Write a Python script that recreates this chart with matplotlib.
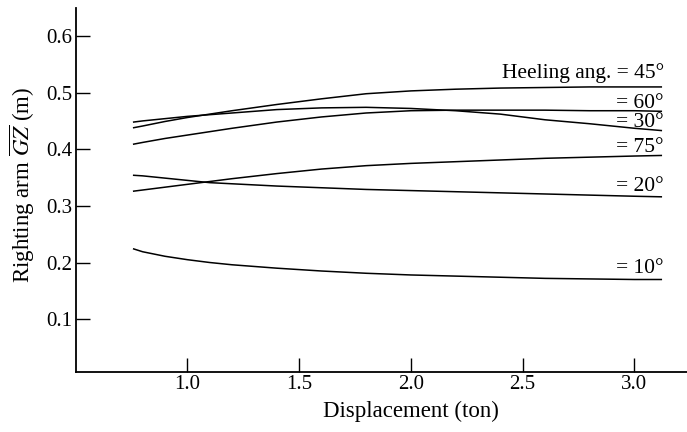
import matplotlib
matplotlib.use("Agg")
import matplotlib.pyplot as plt

plt.rcParams['font.family'] = ['Liberation Serif', 'DejaVu Serif']
plt.rcParams['mathtext.fontset'] = 'stix'

displacement = [0.76, 0.8, 0.9, 1.0, 1.1, 1.2, 1.4, 1.6, 1.8, 2.0, 2.2, 2.4, 2.6, 2.8, 3.0, 3.12]

gz_45 = [0.438, 0.441, 0.449, 0.456, 0.462, 0.468, 0.479, 0.489, 0.498, 0.503, 0.506, 0.508, 0.509, 0.510, 0.510, 0.510]
gz_30 = [0.448, 0.450, 0.454, 0.458, 0.461, 0.464, 0.470, 0.473, 0.474, 0.472, 0.468, 0.462, 0.452, 0.445, 0.437, 0.433]
gz_60 = [0.409, 0.412, 0.419, 0.425, 0.431, 0.437, 0.448, 0.457, 0.464, 0.468, 0.469, 0.469, 0.469, 0.468, 0.468, 0.467]
gz_75 = [0.326, 0.328, 0.333, 0.338, 0.343, 0.348, 0.357, 0.365, 0.371, 0.375, 0.378, 0.381, 0.384, 0.386, 0.388, 0.389]
gz_20 = [0.354, 0.353, 0.349, 0.345, 0.341, 0.339, 0.335, 0.332, 0.329, 0.327, 0.325, 0.323, 0.321, 0.319, 0.317, 0.316]
gz_10 = [0.224, 0.219, 0.211, 0.205, 0.200, 0.196, 0.190, 0.185, 0.181, 0.178, 0.176, 0.174, 0.172, 0.171, 0.170, 0.170]

series = [gz_45, gz_60, gz_30, gz_75, gz_20, gz_10]
labels = ["Heeling ang. = 45°", "= 60°", "= 30°", "= 75°", "= 20°", "= 10°"]
label_y = [0.526, 0.473, 0.439, 0.395, 0.327, 0.181]
label_x = 3.132

x_ticks = [1.0, 1.5, 2.0, 2.5, 3.0]
y_ticks = [0.1, 0.2, 0.3, 0.4, 0.5, 0.6]

XMIN, XMAX = 0.5, 3.235

fig = plt.figure(figsize=(6.87, 4.32), dpi=100)
ax = fig.add_axes([0.110, 0.138, 0.890, 0.843])

for ys in series:
    ax.plot(displacement, ys, color='black', lw=1.1)

for lab, ly in zip(labels, label_y):
    ax.text(label_x, ly, lab, ha='right', va='baseline', fontsize=15.5)

ax.set_xlim(XMIN, XMAX)
ax.set_ylim(0.006, 0.649)
ax.set_xticks(x_ticks)
ax.set_yticks(y_ticks)
ax.set_xticklabels([f"{v:.1f}" for v in x_ticks])
ax.set_yticklabels([f"{v:.1f}" for v in y_ticks])
ax.tick_params(direction='in', length=10, width=1.0, labelsize=15)
ax.tick_params(axis='y', pad=2.5)
ax.tick_params(axis='x', pad=2)
for s in ['top', 'right']:
    ax.spines[s].set_visible(False)
for s in ['left', 'bottom']:
    ax.spines[s].set_linewidth(1.3)

ax.set_xlabel("Displacement (ton)", fontsize=16.5, va='center')
ax.xaxis.set_label_coords((2.0 - XMIN) / (XMAX - XMIN), -39 / 364.3)
ax.set_ylabel(r"Righting arm $\overline{GZ}$ (m)", fontsize=16.5, va='center')
ax.yaxis.set_label_coords(-0.0875, 0.514)

fig.savefig("out.png", dpi=100)
